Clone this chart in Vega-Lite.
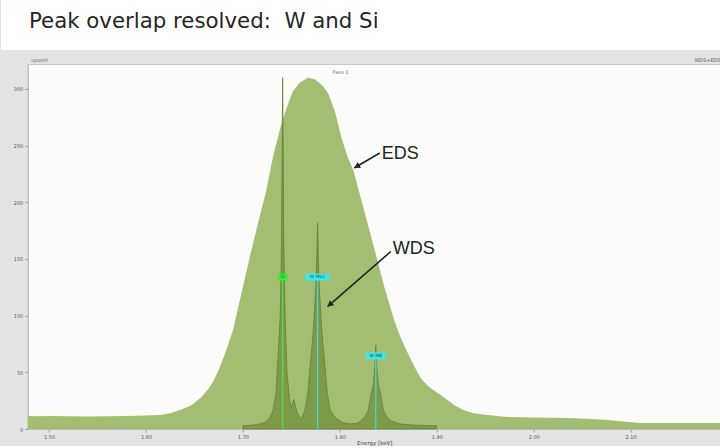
{
  "$schema": "https://vega.github.io/schema/vega-lite/v6.json",
  "background": "#e4e4e4",
  "padding": 0,
  "spacing": 6,
  "center": true,
  "config": {"view": {"stroke": null}, "font": "DejaVu Sans"},
  "datasets": {
    "eds": [
      {"e": 1.478, "c": 11.5}, {"e": 1.49, "c": 11.3}, {"e": 1.5, "c": 11.5}, {"e": 1.52, "c": 11.2},
      {"e": 1.54, "c": 11.0}, {"e": 1.56, "c": 11.2}, {"e": 1.58, "c": 11.5}, {"e": 1.6, "c": 12.0},
      {"e": 1.615, "c": 12.4}, {"e": 1.625, "c": 14}, {"e": 1.636, "c": 17}, {"e": 1.647, "c": 21},
      {"e": 1.657, "c": 28}, {"e": 1.665, "c": 36}, {"e": 1.67, "c": 43}, {"e": 1.675, "c": 52},
      {"e": 1.68, "c": 63}, {"e": 1.685, "c": 75}, {"e": 1.69, "c": 88}, {"e": 1.698, "c": 118},
      {"e": 1.708, "c": 155}, {"e": 1.716, "c": 183}, {"e": 1.724, "c": 210}, {"e": 1.731, "c": 240},
      {"e": 1.739, "c": 267}, {"e": 1.745, "c": 283}, {"e": 1.751, "c": 297}, {"e": 1.758, "c": 305},
      {"e": 1.767, "c": 310}, {"e": 1.775, "c": 308}, {"e": 1.782, "c": 303}, {"e": 1.788, "c": 296},
      {"e": 1.795, "c": 280}, {"e": 1.801, "c": 259}, {"e": 1.808, "c": 240}, {"e": 1.814, "c": 228},
      {"e": 1.825, "c": 193}, {"e": 1.835, "c": 161}, {"e": 1.846, "c": 125}, {"e": 1.856, "c": 96},
      {"e": 1.863, "c": 80}, {"e": 1.87, "c": 67}, {"e": 1.877, "c": 55}, {"e": 1.884, "c": 44},
      {"e": 1.892, "c": 37}, {"e": 1.904, "c": 30}, {"e": 1.912, "c": 25}, {"e": 1.918, "c": 21},
      {"e": 1.928, "c": 16.5}, {"e": 1.938, "c": 14}, {"e": 1.95, "c": 12.5}, {"e": 1.973, "c": 10.6},
      {"e": 2.0, "c": 10.2}, {"e": 2.035, "c": 9.7}, {"e": 2.06, "c": 8.8}, {"e": 2.076, "c": 8},
      {"e": 2.095, "c": 6.5}, {"e": 2.11, "c": 5.3}, {"e": 2.15, "c": 5.2}, {"e": 2.193, "c": 5.3}
    ],
    "wds": [
      {"e": 1.7, "c": 0}, {"e": 1.7001, "c": 3}, {"e": 1.705, "c": 3}, {"e": 1.71, "c": 3.5}, {"e": 1.715, "c": 4},
      {"e": 1.72, "c": 5}, {"e": 1.724, "c": 6.5}, {"e": 1.727, "c": 9}, {"e": 1.731, "c": 16},
      {"e": 1.7341, "c": 32}, {"e": 1.736, "c": 61}, {"e": 1.7385, "c": 100}, {"e": 1.7398, "c": 160},
      {"e": 1.7405, "c": 250}, {"e": 1.741, "c": 310}, {"e": 1.7415, "c": 250}, {"e": 1.7422, "c": 160},
      {"e": 1.7435, "c": 100}, {"e": 1.7455, "c": 50}, {"e": 1.7479, "c": 28}, {"e": 1.7495, "c": 19},
      {"e": 1.751, "c": 22}, {"e": 1.7526, "c": 26}, {"e": 1.754, "c": 21}, {"e": 1.756, "c": 14},
      {"e": 1.759, "c": 10}, {"e": 1.7605, "c": 9}, {"e": 1.764, "c": 17}, {"e": 1.767, "c": 32},
      {"e": 1.7693, "c": 55}, {"e": 1.7715, "c": 75}, {"e": 1.7732, "c": 95}, {"e": 1.7752, "c": 125},
      {"e": 1.7762, "c": 150}, {"e": 1.777, "c": 182}, {"e": 1.7778, "c": 150}, {"e": 1.7788, "c": 125},
      {"e": 1.7808, "c": 95}, {"e": 1.7825, "c": 75}, {"e": 1.7847, "c": 55}, {"e": 1.787, "c": 32},
      {"e": 1.79, "c": 17}, {"e": 1.795, "c": 10}, {"e": 1.802, "c": 6}, {"e": 1.81, "c": 4.5},
      {"e": 1.818, "c": 5}, {"e": 1.8211, "c": 7}, {"e": 1.8251, "c": 10}, {"e": 1.8291, "c": 16},
      {"e": 1.8321, "c": 30}, {"e": 1.8346, "c": 40}, {"e": 1.8361, "c": 55}, {"e": 1.8371, "c": 74},
      {"e": 1.8381, "c": 55}, {"e": 1.8396, "c": 40}, {"e": 1.8421, "c": 30}, {"e": 1.8451, "c": 16},
      {"e": 1.8491, "c": 10}, {"e": 1.8531, "c": 7}, {"e": 1.862, "c": 4.5}, {"e": 1.875, "c": 3.5},
      {"e": 1.89, "c": 3}, {"e": 1.8999, "c": 3}, {"e": 1.9, "c": 0}
    ],
    "lines": [
      {"name": "Si", "e": 1.741, "top": 134},
      {"name": "W Mα1", "e": 1.777, "top": 134},
      {"name": "W Mβ", "e": 1.8371, "top": 64.5},
      {"name": "", "e": 2.038, "top": 4}
    ],
    "arrows": [
      {"label": "EDS", "x": 1.8412, "y": 243.5, "x2": 1.8148, "y2": 230.3, "tx": 1.8433, "ty": 238.5, "hx": 1.8184, "hy": 232.1},
      {"label": "WDS", "x": 1.8526, "y": 156.6, "x2": 1.7873, "y2": 108.0, "tx": 1.8546, "ty": 154.6, "hx": 1.7904, "hy": 110.3}
    ],
    "notes": [{"t": "Fase 1", "e": 1.801, "c": 315}],
    "heading": [{"t": "Peak overlap resolved:\u00a0 W and Si"}]
  },
  "vconcat": [
    {
      "width": 747,
      "height": 50,
      "view": {"fill": "white", "stroke": null},
      "data": {"name": "heading"},
      "mark": {"type": "text", "align": "left", "baseline": "alphabetic", "fontSize": 21.3, "font": "DejaVu Sans", "color": "#262626", "x": 28, "y": 28},
      "encoding": {"text": {"field": "t", "type": "nominal"}}
    },
    {
      "width": 693,
      "height": 365,
      "view": {"fill": "#fcfcfa", "stroke": "#c9c9c9"},
      "title": {"text": "WDS+EDS", "anchor": "end", "fontSize": 5, "fontWeight": "normal", "color": "#555", "offset": -6, "font": "DejaVu Sans"},
      "layer": [
        {
          "data": {"name": "eds"},
          "mark": {"type": "area", "color": "#a3be72", "interpolate": "linear"},
          "encoding": {
            "x": {"field": "e", "type": "quantitative", "scale": {"domain": [1.478, 2.193], "nice": false, "zero": false},
              "axis": {"title": "Energy [keV]", "values": [1.5, 1.6, 1.7, 1.8, 1.9, 2.0, 2.1],
                "format": ".2f", "labelOverlap": false,
                "labelFontSize": 5, "labelColor": "#555", "tickSize": 3, "tickColor": "#999", "domainColor": "#bbb", "grid": false,
                "labelPadding": 2, "labelFlush": false, "titleFontSize": 5.5, "titleFontWeight": "normal", "titleColor": "#444", "titlePadding": 1}},
            "y": {"field": "c", "type": "quantitative", "scale": {"domain": [0, 322], "nice": false},
              "axis": {"title": "cps/eV", "values": [0, 50, 100, 150, 200, 250, 300],
                "labelOverlap": false,
                "labelFontSize": 5, "labelColor": "#555", "tickSize": 3, "tickColor": "#999", "domainColor": "#bbb", "grid": false,
                "labelPadding": 2, "minExtent": 27, "maxExtent": 27,
                "titleAngle": 0, "titleAlign": "left", "titleBaseline": "bottom", "titleX": 3, "titleY": -2,
                "titleFontSize": 5, "titleFontWeight": "normal", "titleColor": "#555"}}
          }
        },
        {
          "data": {"name": "wds"},
          "mark": {"type": "area", "color": "#7c9a47", "stroke": "#62803a", "strokeWidth": 0.8, "interpolate": "linear"},
          "encoding": {
            "x": {"field": "e", "type": "quantitative"},
            "y": {"field": "c", "type": "quantitative"}
          }
        },
        {
          "data": {"name": "lines"},
          "mark": {"type": "rule", "strokeWidth": 1.2},
          "encoding": {
            "x": {"field": "e", "type": "quantitative"},
            "y": {"field": "top", "type": "quantitative"},
            "y2": {"datum": 0},
            "color": {"field": "name", "type": "nominal", "scale": {"domain": ["Si", "W Mα1", "W Mβ", ""], "range": ["#4ee04e", "#46dada", "#46dada", "#46dada"]}, "legend": null}
          }
        },
        {
          "data": {"name": "lines"},
          "transform": [{"filter": "datum.name != ''"}],
          "mark": {"type": "point", "filled": true, "opacity": 1, "size": 196},
          "encoding": {
            "x": {"field": "e", "type": "quantitative"},
            "y": {"field": "top", "type": "quantitative"},
            "shape": {"field": "name", "type": "nominal", "scale": {"domain": ["Si", "W Mα1", "W Mβ"], "range": ["M-0.72,-0.5H0.72V0.5H-0.72Z", "M-1.72,-0.5H1.72V0.5H-1.72Z", "M-1.43,-0.5H1.43V0.5H-1.43Z"]}, "legend": null},
            "fill": {"field": "name", "type": "nominal", "scale": {"domain": ["Si", "W Mα1", "W Mβ"], "range": ["#3de83d", "#3ee8e8", "#3ee8e8"]}, "legend": null}
          }
        },
        {
          "data": {"name": "lines"},
          "transform": [{"filter": "datum.name != ''"}],
          "mark": {"type": "text", "fontSize": 4.5, "color": "#2a5050", "baseline": "middle"},
          "encoding": {
            "x": {"field": "e", "type": "quantitative"},
            "y": {"field": "top", "type": "quantitative"},
            "text": {"field": "name", "type": "nominal"}
          }
        },
        {
          "data": {"name": "arrows"},
          "mark": {"type": "rule", "color": "#222", "strokeWidth": 1.6},
          "encoding": {
            "x": {"field": "x", "type": "quantitative"},
            "y": {"field": "y", "type": "quantitative"},
            "x2": {"field": "x2"},
            "y2": {"field": "y2"}
          }
        },
        {
          "data": {"name": "arrows"},
          "transform": [{"filter": "datum.label == 'EDS'"}],
          "mark": {"type": "point", "shape": "triangle", "filled": true, "color": "#222", "opacity": 1, "size": 45, "angle": 240.7},
          "encoding": {
            "x": {"field": "hx", "type": "quantitative"},
            "y": {"field": "hy", "type": "quantitative"}
          }
        },
        {
          "data": {"name": "arrows"},
          "transform": [{"filter": "datum.label == 'WDS'"}],
          "mark": {"type": "point", "shape": "triangle", "filled": true, "color": "#222", "opacity": 1, "size": 45, "angle": 229},
          "encoding": {
            "x": {"field": "hx", "type": "quantitative"},
            "y": {"field": "hy", "type": "quantitative"}
          }
        },
        {
          "data": {"name": "arrows"},
          "mark": {"type": "text", "align": "left", "baseline": "alphabetic", "fontSize": 18, "font": "Liberation Sans", "color": "#222"},
          "encoding": {
            "x": {"field": "tx", "type": "quantitative"},
            "y": {"field": "ty", "type": "quantitative"},
            "text": {"field": "label", "type": "nominal"}
          }
        },
        {
          "data": {"name": "notes"},
          "mark": {"type": "text", "fontSize": 5, "color": "#777", "baseline": "middle"},
          "encoding": {
            "x": {"field": "e", "type": "quantitative"},
            "y": {"field": "c", "type": "quantitative"},
            "text": {"field": "t", "type": "nominal"}
          }
        }
      ]
    }
  ]
}
